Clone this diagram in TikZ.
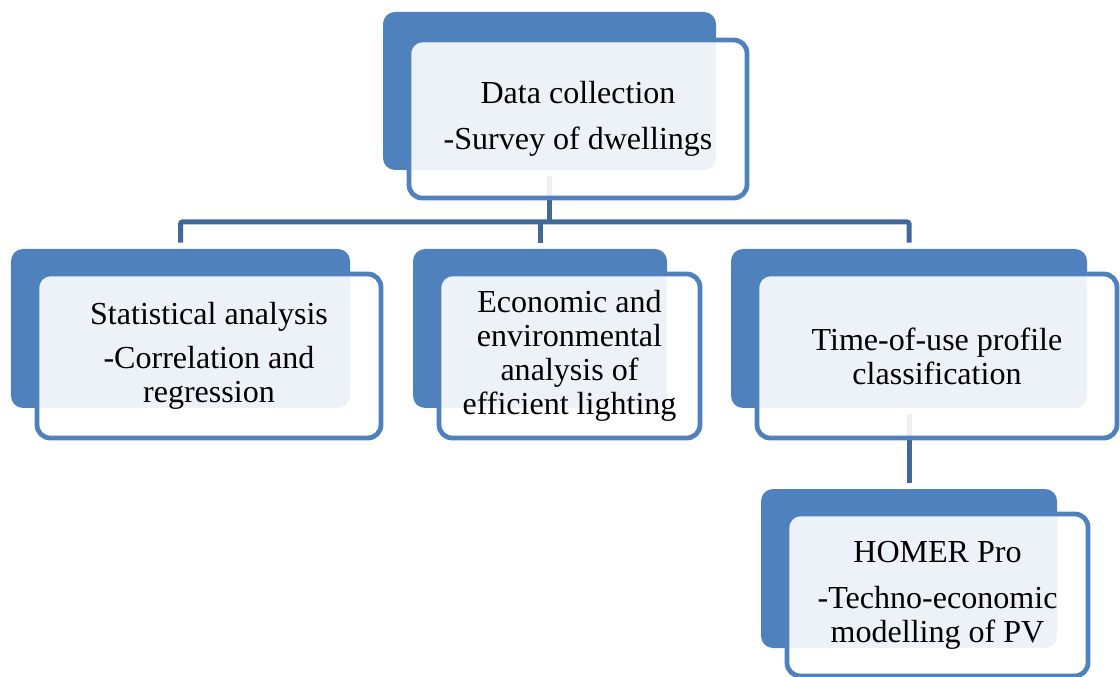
\documentclass[tikz,border=0pt]{standalone}
\usepackage{fontspec}
\setmainfont{Liberation Serif}
\definecolor{boxblue}{RGB}{79,129,189}
\definecolor{linkblue}{RGB}{63,104,155}
\tikzset{
  backbox/.style={fill=boxblue, rounded corners=0.3cm, inner sep=0pt},
  frontbox/.style={draw=boxblue, line width=0.12cm, fill=white, fill opacity=0.9,
    text opacity=1, rounded corners=0.33cm, inner sep=0pt, align=center,
    font=\fontsize{22.8}{24.2}\selectfont},
  link/.style={draw=linkblue, line width=0.125cm, rounded corners=0.05cm},
}
\begin{document}
\begin{tikzpicture}
\useasboundingbox (0,0) rectangle (28,-16.925);

% dark boxes behind
\node[backbox, minimum width=8.325cm, minimum height=3.95cm] (dataB) at (13.7375,-2.275) {};
\node[backbox, minimum width=8.475cm, minimum height=3.975cm] (statB) at (4.5125,-8.2125) {};
\node[backbox, minimum width=6.35cm, minimum height=3.975cm] (econB) at (13.5,-8.2125) {};
\node[backbox, minimum width=8.9cm, minimum height=3.975cm] (timeB) at (22.725,-8.2125) {};
\node[backbox, minimum width=7.4cm, minimum height=3.975cm] (homerB) at (22.725,-14.2125) {};

% connectors
\coordinate (bar) at (0,-5.55);
\draw[link] ([yshift=-0.15cm]dataB.south) -- (dataB.south |- bar);
\draw[link] ([yshift=0.15cm]statB.north) -- (statB.north |- bar) -- (timeB.north |- bar) -- ([yshift=0.15cm]timeB.north);
\draw[link] (econB.north |- bar) -- ([yshift=0.15cm]econB.north);
\draw[link] ([yshift=-0.15cm]timeB.south) -- ([yshift=0.15cm]homerB.north);

% text boxes in front
\node[frontbox, minimum width=8.45cm, minimum height=3.95cm] (data) at (14.45,-2.975)
  {Data collection\\[8.5pt]-Survey of dwellings};
\node[frontbox, minimum width=8.6cm, minimum height=4.1cm] (stat) at (5.225,-8.9)
  {Statistical analysis\\[7.5pt]-Correlation and\\regression};
\node[frontbox, minimum width=6.525cm, minimum height=4.1cm] (econ) at (14.2375,-8.9)
  {Economic and\\environmental\\analysis of\\efficient lighting};
\node[frontbox, minimum width=9.0cm, minimum height=4.1cm] (time) at (23.425,-8.9)
  {Time-of-use profile\\classification};
\node[frontbox, minimum width=7.525cm, minimum height=4.05cm] (homer) at (23.4375,-14.875)
  {HOMER Pro\\[8.5pt]-Techno-economic\\modelling of PV};
\end{tikzpicture}
\end{document}
